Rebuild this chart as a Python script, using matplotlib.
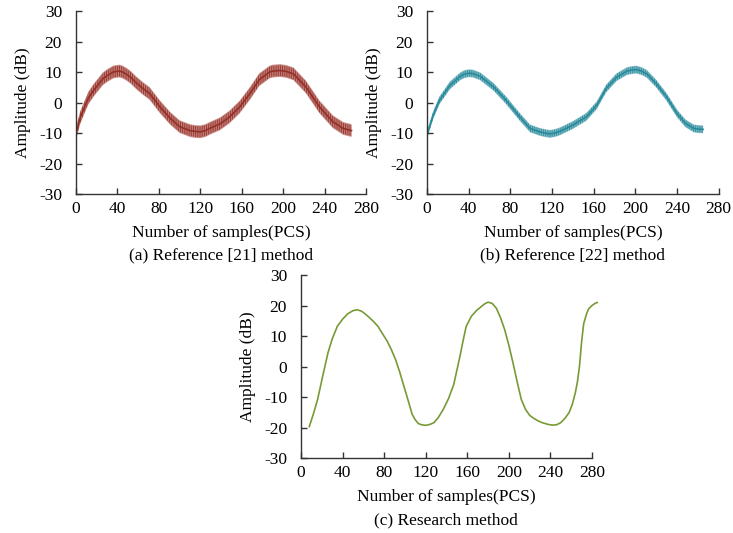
"""
Amplitude curves of three methods (Reference [21], Reference [22], research method).
"""

import numpy as np
import matplotlib.pyplot as plt

plt.rcParams['font.family'] = ['Liberation Serif', 'DejaVu Serif']
plt.rcParams['axes.unicode_minus'] = False
plt.rcParams['hatch.linewidth'] = 0.8

# (a) Reference [21] method - trend
a_x = [1, 4, 7, 12, 17, 26, 30, 36, 39, 42, 45, 49, 53, 58, 65, 71, 81, 91,
       100, 110, 115, 120, 125, 129, 139, 148, 158, 168, 177, 187, 190, 197,
       203, 210, 222, 235, 248, 258, 266]
a_y = [-9, -5, -2.5, 1.5, 4, 7.8, 8.8, 10, 10.2, 10.3, 10, 9.2, 8.2, 6.5, 4.5,
       3, -1.4, -5.2, -7.9, -9.2, -9.5, -9.6, -9.2, -8.5, -7, -4.8, -1.5, 3,
       7.5, 10, 10.3, 10.5, 10.2, 9.4, 5.1, -1.4, -6.3, -8.5, -9.2]

# (b) Reference [22] method
b_x = [1, 6, 12, 22, 32, 36, 40, 44, 51, 64, 76, 89, 99, 108, 113, 118, 123,
       128, 140, 153, 163, 172, 182, 192, 196, 201, 206, 211, 220, 230, 240,
       248, 256, 260, 265]
b_y = [-9.6, -4.1, 0.7, 5.6, 8.6, 9.3, 9.6, 9.5, 8.6, 5.1, 0.7, -4.7, -8.5,
       -9.6, -10, -10.3, -10, -9.4, -7.4, -4.7, -0.9, 4.6, 8.3, 10.3, 10.6,
       10.8, 10.3, 9.4, 6.2, 1.8, -3.6, -6.8, -8.5, -8.7, -8.8]

# (c) Research method
c_x = [8, 12, 16, 21, 26, 30, 35, 40, 45, 50, 54, 58, 62, 66, 70, 74, 78, 83,
       87, 91, 95, 99, 103, 107, 110, 113, 116, 120, 124, 128, 132, 137, 142,
       147, 153, 156, 159, 164, 169, 174, 177, 180, 184, 188, 192, 196, 200,
       204, 208, 212, 216, 220, 224, 228, 232, 238, 242, 246, 250, 254, 258,
       261, 264, 266, 268, 270, 272, 275, 277, 280, 283, 285]
c_y = [-19.7, -15.5, -10.8, -3, 4.5, 9, 13.2, 15.5, 17.3, 18.3, 18.6, 18.2,
       17.2, 16, 14.7, 13.2, 11, 8.3, 5.5, 2.3, -1.8, -6.4, -11, -15.7, -17.5,
       -18.7, -19.1, -19.3, -19, -18.4, -16.8, -14, -10.5, -5.9, 3.4, 8.5,
       13.2, 16.5, 18.4, 19.8, 20.6, 21.1, 20.7, 19.1, 16, 12.1, 7, 1.2, -5,
       -10.8, -14, -16, -17, -17.8, -18.4, -19, -19.2, -19.1, -18.4, -17,
       -15.1, -12.5, -8.6, -5, 0.1, 8, 14, 17.5, 19, 20, 20.7, 21]

x_ticks = [0, 40, 80, 120, 160, 200, 240, 280]
y_ticks = [-30, -20, -10, 0, 10, 20, 30]

FS = 12.5


def style_axes(ax):
    ax.set_xlim(0, 280)
    ax.set_ylim(-30, 30)
    ax.set_xticks(x_ticks)
    ax.set_yticks(y_ticks)
    for side in ['top', 'right']:
        ax.spines[side].set_visible(False)
    for side in ['left', 'bottom']:
        ax.spines[side].set_color('#333333')
        ax.spines[side].set_linewidth(1.0)
    ax.tick_params(axis='both', direction='in', length=4, width=1,
                   color='#333333', labelsize=FS)
    ax.tick_params(axis='y', pad=10)
    ax.tick_params(axis='x', pad=5)
    ax.set_xlabel('Number of samples(PCS)', fontsize=FS, labelpad=6)
    ax.set_ylabel('Amplitude (dB)', fontsize=FS, labelpad=6)


def noisy_line(ax, x, y, dark, light, amp):
    # faint band + vertical hatch stand in for the dense jitter of the signal
    x = np.asarray(x, dtype=float)
    y = np.asarray(y, dtype=float)
    ax.fill_between(x, y - amp, y + amp, facecolor=light, alpha=0.75, lw=0)
    ax.fill_between(x, y - amp * 0.85, y + amp * 0.85, facecolor='none',
                    edgecolor=dark, hatch='|||||||||', lw=0, alpha=0.85)
    ax.plot(x, y, color=dark, lw=1.2, solid_joinstyle='round')


fig = plt.figure(figsize=(7.33, 5.33), dpi=100)

ax_a = fig.add_axes([0.1037, 0.636, 0.3956, 0.3433])
ax_b = fig.add_axes([0.5825, 0.636, 0.398, 0.3433])
ax_c = fig.add_axes([0.4106, 0.1407, 0.397, 0.3433])

noisy_line(ax_a, a_x, a_y, '#943028', '#bd6f68', 2.1)
noisy_line(ax_b, b_x, b_y, '#2a8a9c', '#6fb3c0', 1.3)
ax_c.plot(c_x, c_y, color='#789a36', lw=1.2, solid_joinstyle='round',
          clip_on=False)

for ax in [ax_a, ax_b, ax_c]:
    style_axes(ax)

fig.text(0.3015, 0.5216, '(a) Reference [21] method', ha='center', va='center', fontsize=FS)
fig.text(0.7815, 0.5216, '(b) Reference [22] method', ha='center', va='center', fontsize=FS)
fig.text(0.609, 0.0244, '(c) Research method', ha='center', va='center', fontsize=FS)

plt.savefig('out.png', dpi=100)
